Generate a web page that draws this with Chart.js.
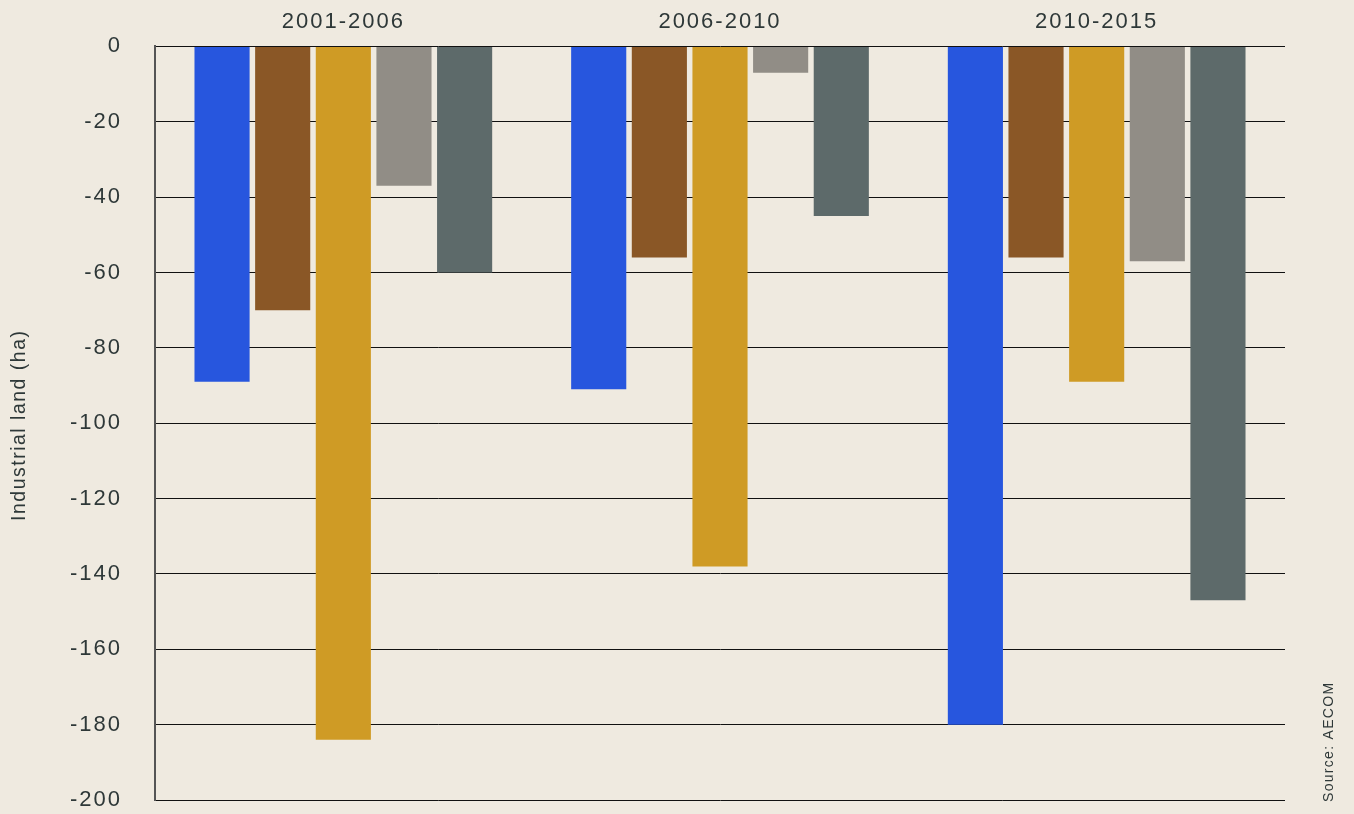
<!DOCTYPE html>
<html>
<head>
<meta charset="utf-8">
<script src="https://cdn.jsdelivr.net/npm/chart.js@4"></script>
<style>
html,body{margin:0;padding:0;background:#EFEAE0;}
#wrap{width:1354px;height:814px;position:relative;}
</style>
</head>
<body>
<div id="wrap"><canvas id="c" width="1354" height="814"></canvas></div>
<script>
const periods = ["2001-2006", "2006-2010", "2010-2015"];
const seriesA = [-89, -91, -180];
const seriesB = [-70, -56, -56];
const seriesC = [-184, -138, -89];
const seriesD = [-37, -7, -57];
const seriesE = [-60, -45, -147];
const colors = ["#2756DE", "#8A5726", "#CF9B25", "#918D86", "#5D6A6A"];
const yTitle = "Industrial land (ha)";
const sourceNote = "Source: AECOM";

const textColor = "#2E3838";
const FONT = "'Liberation Sans', Arial, sans-serif";

const textPlugin = {
  id: "texts",
  beforeDraw(chart) {
    const ctx = chart.ctx;
    ctx.save();
    ctx.fillStyle = "#EFEAE0";
    ctx.fillRect(0, 0, chart.width, chart.height);
    ctx.restore();
    ctx.letterSpacing = "2px";
  },
  afterDraw(chart) {
    const ctx = chart.ctx;
    const area = chart.chartArea;
    // y-axis title
    ctx.save();
    ctx.font = "19.5px " + FONT;
    ctx.letterSpacing = "1.5px";
    ctx.translate(20, (area.top + area.bottom) / 2 + 2);
    ctx.rotate(-Math.PI / 2);
    ctx.fillStyle = textColor;
    ctx.textAlign = "center";
    ctx.textBaseline = "middle";
    ctx.fillText(yTitle, 0, 0);
    ctx.restore();
    // source note
    ctx.save();
    ctx.font = "14px " + FONT;
    ctx.letterSpacing = "1.3px";
    ctx.translate(1333, 802);
    ctx.rotate(-Math.PI / 2);
    ctx.fillStyle = textColor;
    ctx.textAlign = "left";
    ctx.textBaseline = "alphabetic";
    ctx.fillText(sourceNote, 0, 0);
    ctx.restore();
  }
};

const datasets = [seriesA, seriesB, seriesC, seriesD, seriesE].map((d, i) => ({
  data: d,
  backgroundColor: colors[i],
  borderWidth: 0,
  categoryPercentage: 0.805,
  barPercentage: 0.909
}));

new Chart(document.getElementById("c"), {
  type: "bar",
  data: { labels: periods, datasets },
  plugins: [textPlugin],
  options: {
    responsive: false,
    animation: false,
    devicePixelRatio: 1,
    layout: { padding: { left: 0, right: 69, top: -2, bottom: 14 } },
    plugins: { legend: { display: false }, tooltip: { enabled: false } },
    scales: {
      x: {
        position: "top",
        grid: { display: false, drawTicks: false },
        border: { display: false },
        ticks: { color: textColor, font: { family: FONT, size: 22 }, padding: 11, maxRotation: 0 },
        afterFit(scale) { scale.paddingLeft = 0; scale.paddingRight = 0; }
      },
      y: {
        min: -200,
        max: 0,
        grid: { color: "#111", lineWidth: 1, drawTicks: false },
        border: { display: true, color: "#555", width: 2 },
        ticks: { stepSize: 20, color: textColor, font: { family: FONT, size: 22 }, padding: 33 },
        afterFit(scale) { scale.width = 155; scale.paddingTop = 0; scale.paddingBottom = 0; }
      }
    }
  }
});
</script>
</body>
</html>
